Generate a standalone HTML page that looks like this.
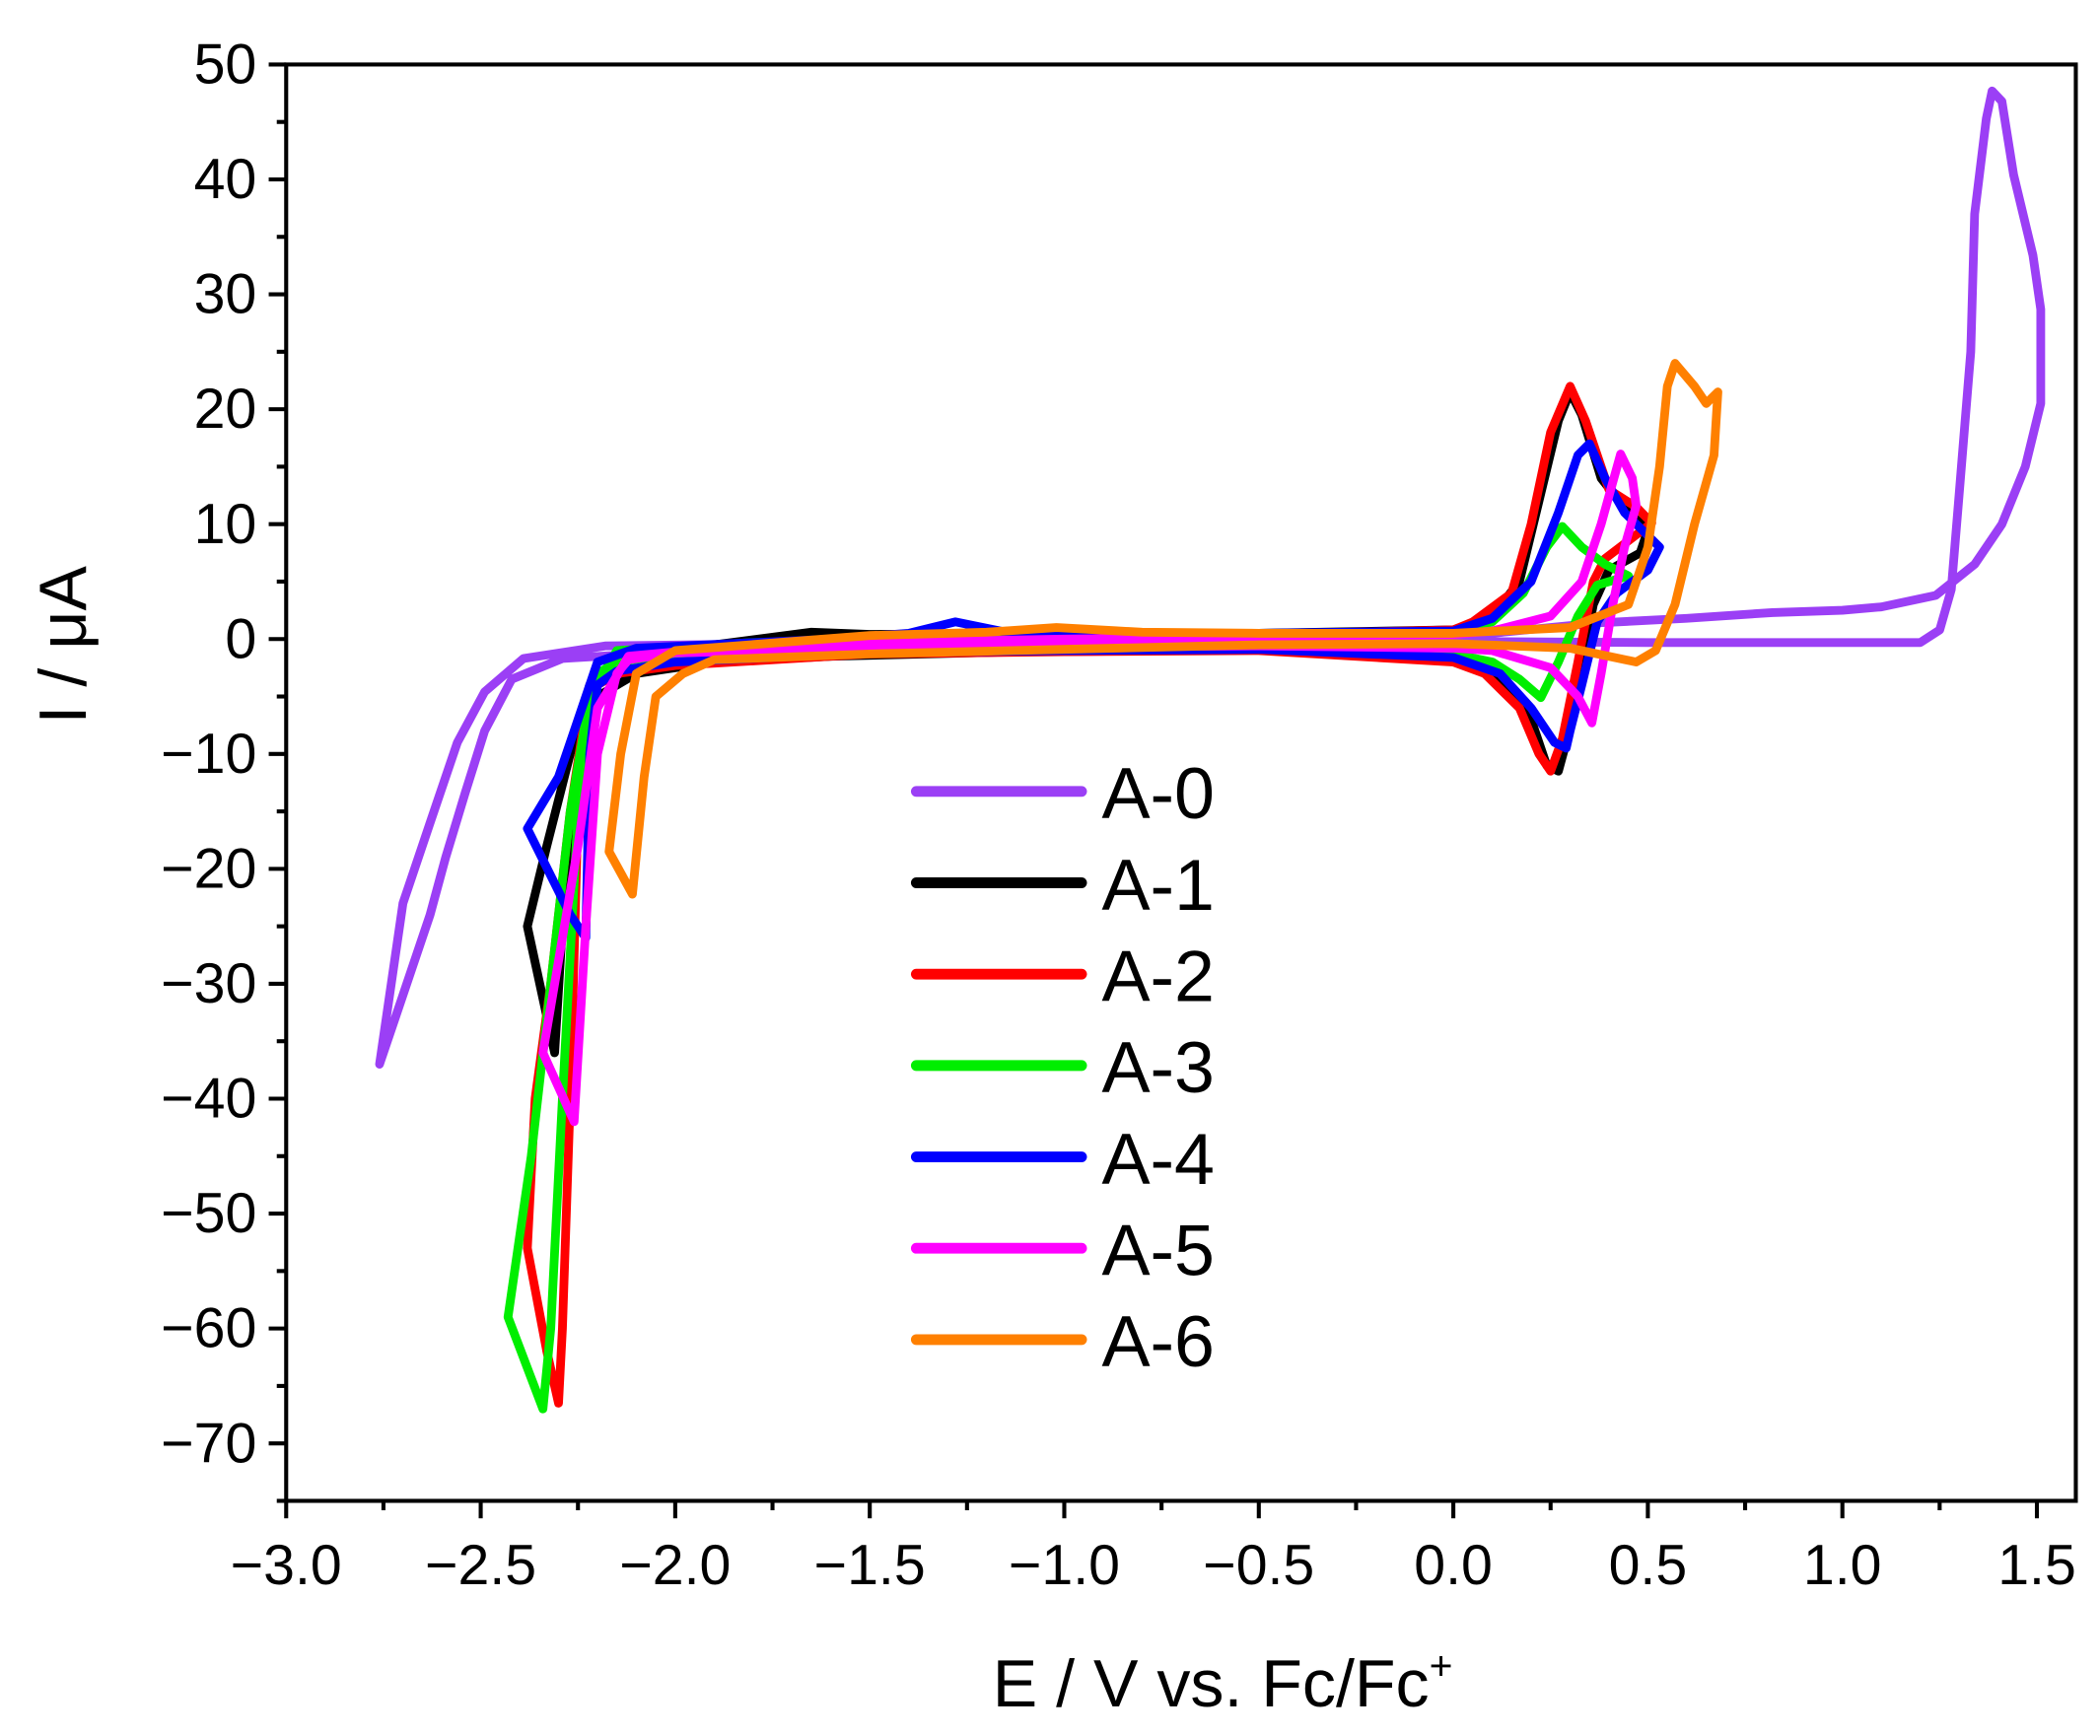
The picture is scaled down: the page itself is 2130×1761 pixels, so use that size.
<!DOCTYPE html>
<html><head><meta charset="utf-8"><style>
html,body{margin:0;padding:0;background:#fff;}
svg{display:block;font-family:"Liberation Sans",Arial,sans-serif;}
</style></head><body>
<svg id="chart" width="2130" height="1761" viewBox="0 0 1563 1292" preserveAspectRatio="none" xmlns="http://www.w3.org/2000/svg">
<rect x="0" y="0" width="1563" height="1292" fill="#fff"/>
<g id="plot"></g>
</svg>
<script>
const xTicks = [-3.0,-2.5,-2.0,-1.5,-1.0,-0.5,0.0,0.5,1.0,1.5];
const xTickLabels = ["\u22123.0","\u22122.5","\u22122.0","\u22121.5","\u22121.0","\u22120.5","0.0","0.5","1.0","1.5"];
const yTicks = [50,40,30,20,10,0,-10,-20,-30,-40,-50,-60,-70];
const yTickLabels = ["50","40","30","20","10","0","\u221210","\u221220","\u221230","\u221240","\u221250","\u221260","\u221270"];
const seriesNames = ["A-0","A-1","A-2","A-3","A-4","A-5","A-6"];
const seriesColors = ["#9b3ff5","#000000","#ff0000","#00ee00","#0000ff","#ff00ff","#ff8000"];
const a0 = [[-2.76,-37],[-2.73,-30],[-2.70,-23],[-2.63,-16],[-2.56,-9],[-2.49,-4.6],[-2.39,-1.7],[-2.18,-0.6],[-1.5,-0.3],[-1.0,-0.3],[-0.5,-0.3],[0,-0.2],[0.5,-0.3],[1.0,-0.3],[1.2,-0.3],[1.25,0.8],[1.28,4.3],[1.30,12.5],[1.33,25],[1.34,37],[1.37,45.3],[1.385,47.7],[1.41,46.8],[1.44,40.4],[1.49,33.4],[1.51,28.7],[1.51,20.5],[1.47,15],[1.41,10],[1.34,6.5],[1.24,3.8],[1.10,2.8],[1.0,2.5],[0.82,2.3],[0.6,1.8],[0.37,1.4],[0.1,0.5],[-0.5,-0.9],[-1.0,-1.1],[-1.5,-1.1],[-2.0,-1.1],[-2.29,-1.7],[-2.42,-3.5],[-2.49,-8],[-2.54,-13.4],[-2.59,-19],[-2.63,-24],[-2.72,-33],[-2.76,-37]];
const a1 = [[-2.31,-36],[-2.38,-25],[-2.33,-18],[-2.27,-10],[-2.22,-4],[-2.1,-1.5],[-1.9,-0.5],[-1.65,0.6],[-1.5,0.4],[-1.0,0.5],[-0.5,0.5],[0,0.8],[0.1,2],[0.17,5],[0.22,12],[0.27,19],[0.3,21.5],[0.33,19.5],[0.38,14],[0.45,11],[0.5,9.5],[0.48,7.5],[0.40,6],[0.36,3],[0.32,-4],[0.29,-9],[0.27,-11.5],[0.24,-11],[0.2,-7],[0.12,-3.5],[0,-1.8],[-0.5,-0.9],[-1.0,-1],[-1.6,-1.5],[-1.9,-2],[-2.1,-3],[-2.2,-5],[-2.25,-12],[-2.29,-25],[-2.31,-36]];
const a2 = [[-2.3,-66.5],[-2.33,-62],[-2.38,-53],[-2.36,-40],[-2.32,-30],[-2.27,-15],[-2.22,-4],[-2.1,-1],[-1.5,0],[-1.0,0.3],[-0.5,0.4],[0,0.8],[0.05,1.5],[0.15,4],[0.2,10],[0.25,18],[0.3,22],[0.34,19],[0.4,13],[0.47,11.5],[0.51,10.1],[0.39,7],[0.36,5],[0.32,-2],[0.28,-8.7],[0.25,-11.5],[0.22,-10],[0.17,-6],[0.08,-3],[0,-2],[-0.5,-1],[-1.0,-1.1],[-1.5,-1.3],[-2.0,-2.3],[-2.15,-3],[-2.2,-4],[-2.25,-15],[-2.27,-40],[-2.29,-60],[-2.3,-66.5]];
const a3 = [[-2.34,-67],[-2.43,-59],[-2.37,-45],[-2.32,-30],[-2.27,-15],[-2.22,-5],[-2.15,-1],[-1.8,-0.3],[-1.0,0],[-0.5,0.3],[0,0.6],[0.1,1.5],[0.18,4],[0.24,8],[0.28,9.8],[0.33,8],[0.39,6.5],[0.45,5.5],[0.37,4.7],[0.32,2],[0.27,-2],[0.225,-5.1],[0.17,-3.5],[0.1,-2],[0,-1.3],[-0.5,-0.8],[-1.0,-0.9],[-1.5,-1],[-2.0,-1.3],[-2.15,-2],[-2.2,-3],[-2.25,-15],[-2.29,-40],[-2.32,-60],[-2.34,-67]];
const a4 = [[-2.23,-26],[-2.27,-24],[-2.38,-16.5],[-2.3,-12],[-2.25,-7],[-2.2,-2],[-2.1,-0.8],[-1.6,0],[-1.4,0.5],[-1.28,1.5],[-1.15,0.6],[-1.0,0.5],[-0.5,0.5],[0,0.7],[0.1,1.8],[0.2,5],[0.27,11],[0.32,16],[0.35,17],[0.39,14],[0.44,11],[0.5,9],[0.53,8],[0.5,6],[0.42,4],[0.37,1.5],[0.33,-4],[0.3,-8],[0.29,-9.5],[0.26,-9],[0.2,-6],[0.12,-3],[0,-1.6],[-0.5,-0.9],[-1.0,-1],[-1.5,-1.2],[-2.0,-2],[-2.15,-2.8],[-2.2,-4],[-2.22,-10],[-2.23,-26]];
const a5 = [[-2.26,-42],[-2.34,-36],[-2.3,-28],[-2.25,-18],[-2.2,-6],[-2.12,-1.5],[-1.8,-0.5],[-1.0,0],[-0.5,0.2],[0,0.4],[0.1,0.7],[0.25,2],[0.33,5],[0.38,10],[0.43,16.1],[0.46,14],[0.47,11.6],[0.44,8],[0.41,3],[0.38,-3],[0.356,-7.3],[0.32,-5],[0.25,-2.5],[0.1,-1],[0,-0.8],[-0.5,-0.6],[-1.0,-0.7],[-1.5,-0.8],[-2.0,-1.2],[-2.12,-1.8],[-2.15,-3],[-2.2,-10],[-2.23,-25],[-2.26,-42]];
const a6 = [[-2.11,-22.2],[-2.17,-18.5],[-2.14,-10],[-2.1,-3],[-2.0,-1],[-1.5,0.3],[-1.2,0.6],[-1.02,1.0],[-0.8,0.6],[-0.5,0.5],[0,0.5],[0.3,1],[0.45,3],[0.5,8],[0.53,15],[0.55,22],[0.57,24],[0.62,22],[0.65,20.5],[0.68,21.5],[0.67,16],[0.62,10],[0.57,3],[0.52,-1],[0.47,-2],[0.3,-0.8],[0,-0.4],[-0.5,-0.5],[-1.0,-0.9],[-1.5,-1.3],[-1.9,-1.8],[-1.98,-3],[-2.05,-5],[-2.08,-12],[-2.11,-22.2]];
const seriesData = [a0,a1,a2,a3,a4,a5,a6];

const NS = "http://www.w3.org/2000/svg";
const L = 213, R = 1545, T = 48, B = 1117;
const xMin = -3.0, xMax = 1.6, yMin = -75, yMax = 50;
function sx(v){ return L + (v - xMin) / (xMax - xMin) * (R - L); }
function sy(v){ return B - (v - yMin) / (yMax - yMin) * (B - T); }
const g = document.getElementById('plot');
function mk(tag, attrs, parent){ const e = document.createElementNS(NS, tag); for (const k in attrs) e.setAttribute(k, attrs[k]); (parent || g).appendChild(e); return e; }

seriesData.forEach((pts, i) => {
  const d = pts.map((p, j) => (j ? 'L' : 'M') + sx(p[0]).toFixed(1) + ',' + sy(p[1]).toFixed(1)).join(' ') + ' Z';
  const p = mk('path', {d: d, fill: 'none', stroke: seriesColors[i], 'stroke-width': 6.5, 'stroke-linejoin': 'round'});
  
  
});

const fr = mk('rect', {x: L, y: T, width: R - L, height: B - T, fill: 'none', stroke: '#000', 'stroke-width': 3});



xTicks.forEach((v, i) => {
  const x = sx(v);
  const t = mk('line', {x1: x, y1: B, x2: x, y2: B + 13, stroke: '#000', 'stroke-width': 3});
  
  
  const mx = sx(v + 0.25);
  if (v + 0.25 < xMax) { const m = mk('line', {x1: mx, y1: B, x2: mx, y2: B + 7, stroke: '#000', 'stroke-width': 3});   }
  const lb = mk('text', {x: x, y: B + 62, 'text-anchor': 'middle', 'font-size': 42, fill: '#000'});
  lb.textContent = xTickLabels[i];
  
  
});
yTicks.forEach((v, i) => {
  const y = sy(v);
  const t = mk('line', {x1: L, y1: y, x2: L - 13, y2: y, stroke: '#000', 'stroke-width': 3});
  
  
  const my = sy(v - 5);
  const m = mk('line', {x1: L, y1: my, x2: L - 7, y2: my, stroke: '#000', 'stroke-width': 3});
  
  
  const lb = mk('text', {x: L - 22, y: y + 14, 'text-anchor': 'end', 'font-size': 42, fill: '#000'});
  lb.textContent = yTickLabels[i];
  
  
});

const xt = mk('text', {x: 910, y: 1270, 'text-anchor': 'middle', 'font-size': 50, fill: '#000'});
xt.innerHTML = 'E / V vs. Fc/Fc<tspan dy="-20" font-size="30">+</tspan>';


const yt = mk('text', {x: 0, y: 0, 'text-anchor': 'middle', 'font-size': 50, fill: '#000', transform: 'translate(64,480) rotate(-90)'});
yt.textContent = 'I / \u03bcA';



seriesNames.forEach((n, i) => {
  const y = 589 + i * 68;
  const ln = mk('line', {x1: 682, y1: y, x2: 805, y2: y, stroke: seriesColors[i], 'stroke-width': 8, 'stroke-linecap': 'round'});
  
  
  const tx = mk('text', {x: 820, y: y + 20, 'font-size': 54, fill: '#000'});
  tx.textContent = n;
  
  
});
</script>
</body></html>
